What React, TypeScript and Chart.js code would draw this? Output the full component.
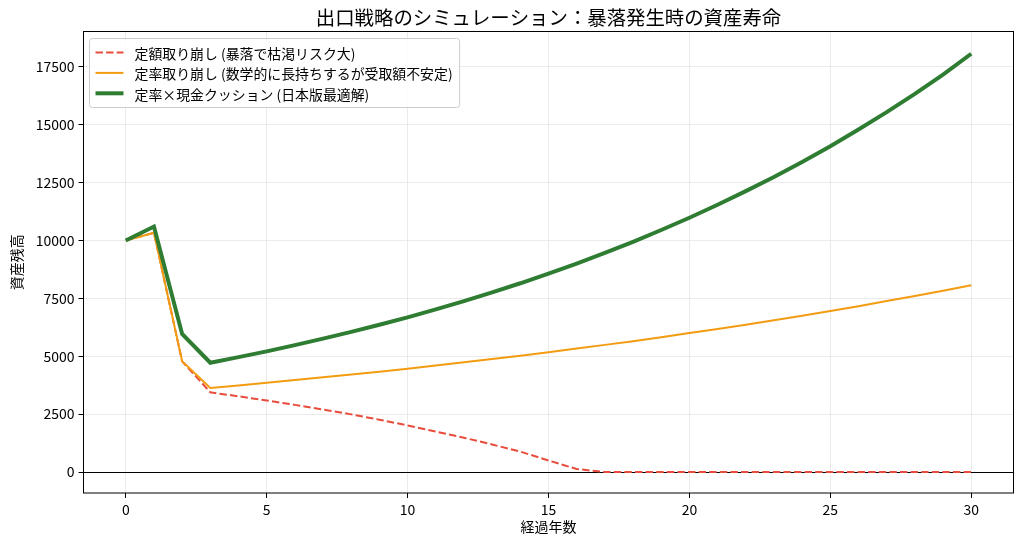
import React, { useEffect, useRef } from 'react'
import { Chart, registerables } from 'chart.js'

Chart.register(...registerables)

const FONT = "'Noto Sans CJK JP', 'Noto Sans', sans-serif"

const chartTitle = '出口戦略のシミュレーション：暴落発生時の資産寿命'
const xLabel = '経過年数'
const yLabel = '資産残高'

const years = [0, 1, 2, 3, 4, 5, 6, 7, 8, 9, 10, 11, 12, 13, 14, 15, 16, 17, 18, 19, 20, 21, 22, 23, 24, 25, 26, 27, 28, 29, 30]

const fixedName = '定額取り崩し (暴落で枯渇リスク大)'
const fixedValues = [10000, 10330, 4780, 3440, 3270, 3090, 2900, 2700, 2490, 2260, 2010, 1750, 1480, 1190, 880, 500, 130, 0, 0, 0, 0, 0, 0, 0, 0, 0, 0, 0, 0, 0, 0]

const rateName = '定率取り崩し (数学的に長持ちするが受取額不安定)'
const rateValues = [10000, 10330, 4780, 3630, 3740, 3850, 3970, 4090, 4210, 4330, 4460, 4600, 4740, 4880, 5020, 5170, 5330, 5490, 5650, 5820, 6000, 6180, 6360, 6550, 6750, 6950, 7160, 7380, 7600, 7830, 8060]

const cushionName = '定率×現金クッション (日本版最適解)'
const cushionValues = [10000, 10600, 5960, 4720, 4960, 5210, 5480, 5760, 6050, 6360, 6680, 7020, 7380, 7760, 8150, 8570, 9000, 9460, 9940, 10450, 10980, 11540, 12130, 12740, 13390, 14070, 14790, 15540, 16330, 17160, 18060]

const xTicks = [0, 5, 10, 15, 20, 25, 30]
const yTicks = [0, 2500, 5000, 7500, 10000, 12500, 15000, 17500]

const series = [
  { label: fixedName, values: fixedValues, color: '#e74c3c', width: 2, dash: [7.4, 3.2], order: 3 },
  { label: rateName, values: rateValues, color: '#f39c12', width: 2, dash: [] as number[], order: 2 },
  { label: cushionName, values: cushionValues, color: '#2e7d32', width: 4, dash: [] as number[], order: 1 },
]

// frame, zero line, title over the axes and the boxed legend inside them
const framePlugin = {
  id: 'frame',
  beforeDatasetsDraw(chart: any) {
    const { ctx, chartArea } = chart
    const y0 = Math.round(chart.scales.y.getPixelForValue(0)) + 0.5
    ctx.save()
    ctx.strokeStyle = '#000'
    ctx.lineWidth = 1.2
    ctx.beginPath()
    ctx.moveTo(chartArea.left, y0)
    ctx.lineTo(chartArea.right, y0)
    ctx.stroke()
    ctx.restore()
  },
  afterDraw(chart: any) {
    const { ctx, chartArea } = chart
    ctx.save()
    ctx.strokeStyle = '#000'
    ctx.lineWidth = 1
    ctx.strokeRect(chartArea.left, chartArea.top, chartArea.right - chartArea.left, chartArea.bottom - chartArea.top)

    ctx.fillStyle = '#000'
    ctx.font = `19.4px ${FONT}`
    ctx.textAlign = 'center'
    ctx.textBaseline = 'middle'
    ctx.fillText(chartTitle, (chartArea.left + chartArea.right) / 2, 18)

    ctx.font = `13.9px ${FONT}`
    const textW = Math.max(...series.map(s => ctx.measureText(s.label).width))
    const bx = chartArea.left + 6
    const by = chartArea.top + 7
    const bw = 45 + textW + 7
    const bh = 69
    ctx.beginPath()
    ctx.roundRect(bx, by, bw, bh, 3)
    ctx.fillStyle = 'rgba(255,255,255,0.85)'
    ctx.fill()
    ctx.strokeStyle = '#cccccc'
    ctx.lineWidth = 1
    ctx.stroke()

    series.forEach((s, i) => {
      const cy = by + 14 + i * 20.4
      ctx.beginPath()
      ctx.setLineDash(s.dash)
      ctx.strokeStyle = s.color
      ctx.lineWidth = s.width
      ctx.moveTo(bx + 6, cy)
      ctx.lineTo(bx + 34, cy)
      ctx.stroke()
      ctx.setLineDash([])
      ctx.fillStyle = '#000'
      ctx.textBaseline = 'middle'
      ctx.textAlign = 'left'
      ctx.fillText(s.label, bx + 45, cy + 1)
    })
    ctx.restore()
  },
}

export default function App() {
  const canvasRef = useRef<HTMLCanvasElement>(null)

  useEffect(() => {
    if (!canvasRef.current) return
    const gridColor = '#e6e6e6'
    const chart = new Chart(canvasRef.current, {
      type: 'line',
      data: {
        datasets: series.map(s => ({
          label: s.label,
          data: years.map((x, i) => ({ x, y: s.values[i] })),
          borderColor: s.color,
          backgroundColor: s.color,
          borderWidth: s.width,
          borderDash: s.dash,
          pointRadius: 0,
          tension: 0,
          fill: false,
          order: s.order,
        })),
      },
      options: {
        animation: false,
        responsive: false,
        layout: { padding: { left: 0, right: 8.5, top: 31.5, bottom: 0 } },
        plugins: {
          legend: { display: false },
          tooltip: { enabled: false },
          title: { display: false },
        },
        scales: {
          x: {
            type: 'linear',
            min: -1.5,
            max: 31.5,
            afterBuildTicks: (scale: any) => { scale.ticks = xTicks.map(v => ({ value: v })) },
            afterFit: (scale: any) => { scale.height = 52 },
            grid: { color: gridColor, lineWidth: 0.8, tickColor: '#000', tickLength: 5, tickWidth: 1 },
            border: { display: false },
            ticks: { color: '#000', font: { family: FONT, size: 14 }, padding: 3, maxRotation: 0 },
            title: { display: true, text: xLabel, color: '#000', font: { family: FONT, size: 14 }, padding: { top: 0, bottom: 9.5 } },
          },
          y: {
            type: 'linear',
            min: -905,
            max: 19020,
            afterBuildTicks: (scale: any) => { scale.ticks = yTicks.map(v => ({ value: v })) },
            afterFit: (scale: any) => { scale.width = 83.5 },
            grid: { color: gridColor, lineWidth: 0.8, tickColor: '#000', tickLength: 5, tickWidth: 1 },
            border: { display: false },
            ticks: { color: '#000', font: { family: FONT, size: 14 }, padding: 4, callback: (v: any) => String(v) },
            title: { display: true, text: yLabel, color: '#000', font: { family: FONT, size: 14 }, padding: { top: 8, bottom: 0 } },
          },
        },
      },
      plugins: [framePlugin],
    } as any)
    return () => chart.destroy()
  }, [])

  return (
    <div style={{ position: 'fixed', left: 0, top: 0, width: 1022, height: 545, background: '#fff' }}>
      <canvas ref={canvasRef} width={1022} height={545} />
    </div>
  )
}
